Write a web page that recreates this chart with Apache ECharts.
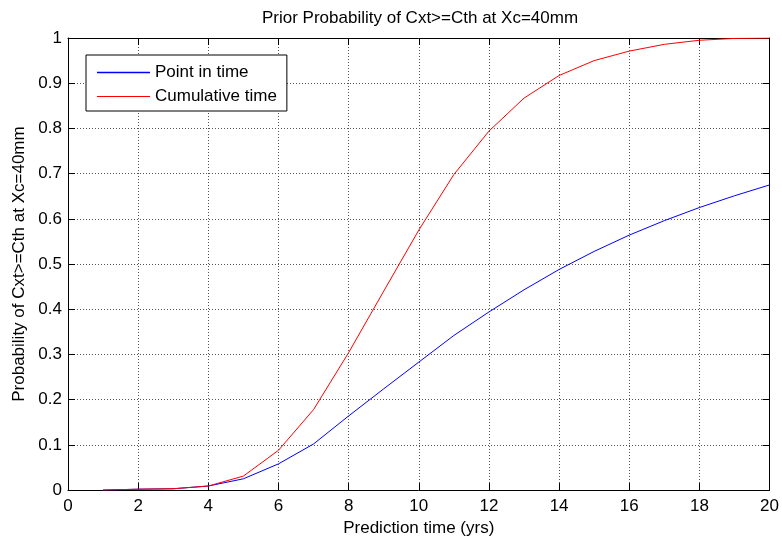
<!DOCTYPE html>
<html>
<head>
<meta charset="utf-8">
<script src="https://cdn.jsdelivr.net/npm/echarts@6/dist/echarts.min.js"></script>
<style>
  html, body { margin: 0; padding: 0; background: #fff; }
  #chart { width: 782px; height: 542px; }
</style>
</head>
<body>
<div id="chart"></div>
<script>
// prediction time (yrs)
var years = [1, 2, 3, 4, 5, 6, 7, 8, 9, 10, 11, 12, 13, 14, 15, 16, 17, 18, 19, 20];
// probability
var pointInTime = [0, 0.002, 0.003, 0.009, 0.025, 0.058, 0.102, 0.164, 0.224, 0.283, 0.342, 0.394, 0.443, 0.488, 0.528, 0.564, 0.596, 0.625, 0.651, 0.675];
var cumulativeTime = [0, 0.002, 0.003, 0.009, 0.031, 0.088, 0.178, 0.304, 0.44, 0.575, 0.698, 0.794, 0.867, 0.917, 0.95, 0.971, 0.986, 0.995, 0.999, 1.0];
var seriesNames = ['Point in time', 'Cumulative time'];

var font = 'Liberation Sans, Arial, sans-serif';

function pairs(ys) {
    var out = [];
    for (var i = 0; i < years.length; i++) {
        out.push([years[i], ys[i]]);
    }
    return out;
}

var gridLine = {
    show: true,
    lineStyle: { color: '#555', type: [1, 2], width: 1 }
};

var myChart = echarts.init(document.getElementById('chart'));
var option = {
    backgroundColor: '#fff',
    animation: false,
    title: {
        text: 'Prior Probability of Cxt>=Cth at Xc=40mm',
        left: 257,
        top: 5,
        textStyle: { fontFamily: font, fontSize: 17, fontWeight: 'normal', color: '#000' }
    },
    legend: {
        left: 86,
        top: 55,
        orient: 'vertical',
        padding: [9, 10, 6, 11],
        itemGap: 7,
        itemWidth: 53,
        itemHeight: 17,
        borderColor: '#000',
        borderWidth: 1,
        backgroundColor: '#fff',
        // plain line icons, like the matlab legend
        data: [
            { name: seriesNames[0], icon: 'path://M0,0H53V1.6H0Z' },
            { name: seriesNames[1], icon: 'path://M0,0H53V1.1H0Z' }
        ],
        textStyle: { fontFamily: font, fontSize: 17, color: '#000', lineHeight: 17 }
    },
    grid: { left: 68, right: 10, top: 38, bottom: 48 },
    xAxis: [{
        type: 'value',
        min: 0,
        max: 20,
        interval: 2,
        name: 'Prediction time (yrs)',
        nameLocation: 'middle',
        nameGap: 29,
        nameTextStyle: { fontFamily: font, fontSize: 17, color: '#000' },
        axisLine: { show: true, onZero: false, lineStyle: { color: '#000', width: 1 } },
        axisTick: { show: true, inside: true, length: 7, lineStyle: { color: '#000' } },
        axisLabel: { fontFamily: font, fontSize: 17, color: '#000', margin: 8 },
        splitLine: gridLine
    }, {
        type: 'value',
        position: 'top',
        min: 0,
        max: 20,
        interval: 2,
        axisLine: { show: true, onZero: false, lineStyle: { color: '#000', width: 1 } },
        axisTick: { show: true, inside: true, length: 7, lineStyle: { color: '#000' } },
        axisLabel: { show: false },
        splitLine: { show: false }
    }],
    yAxis: [{
        type: 'value',
        min: 0,
        max: 1,
        interval: 0.1,
        name: 'Probability of Cxt>=Cth at Xc=40mm',
        nameLocation: 'middle',
        nameGap: 36,
        nameTextStyle: { fontFamily: font, fontSize: 17, color: '#000' },
        axisLine: { show: true, onZero: false, lineStyle: { color: '#000', width: 1 } },
        axisTick: { show: true, inside: true, length: 7, lineStyle: { color: '#000' } },
        axisLabel: { fontFamily: font, fontSize: 17, color: '#000', margin: 6 },
        splitLine: gridLine
    }, {
        type: 'value',
        position: 'right',
        min: 0,
        max: 1,
        interval: 0.1,
        axisLine: { show: true, onZero: false, lineStyle: { color: '#000', width: 1 } },
        axisTick: { show: true, inside: true, length: 7, lineStyle: { color: '#000' } },
        axisLabel: { show: false },
        splitLine: { show: false }
    }],
    series: [{
        name: seriesNames[0],
        type: 'line',
        data: pairs(pointInTime),
        symbol: 'none',
        lineStyle: { color: '#0000ff', width: 1 },
        itemStyle: { color: '#0000ff' }
    }, {
        name: seriesNames[1],
        type: 'line',
        data: pairs(cumulativeTime),
        symbol: 'none',
        lineStyle: { color: '#ff0000', width: 1 },
        itemStyle: { color: '#ff0000' }
    }]
};
myChart.setOption(option);
</script>
</body>
</html>
